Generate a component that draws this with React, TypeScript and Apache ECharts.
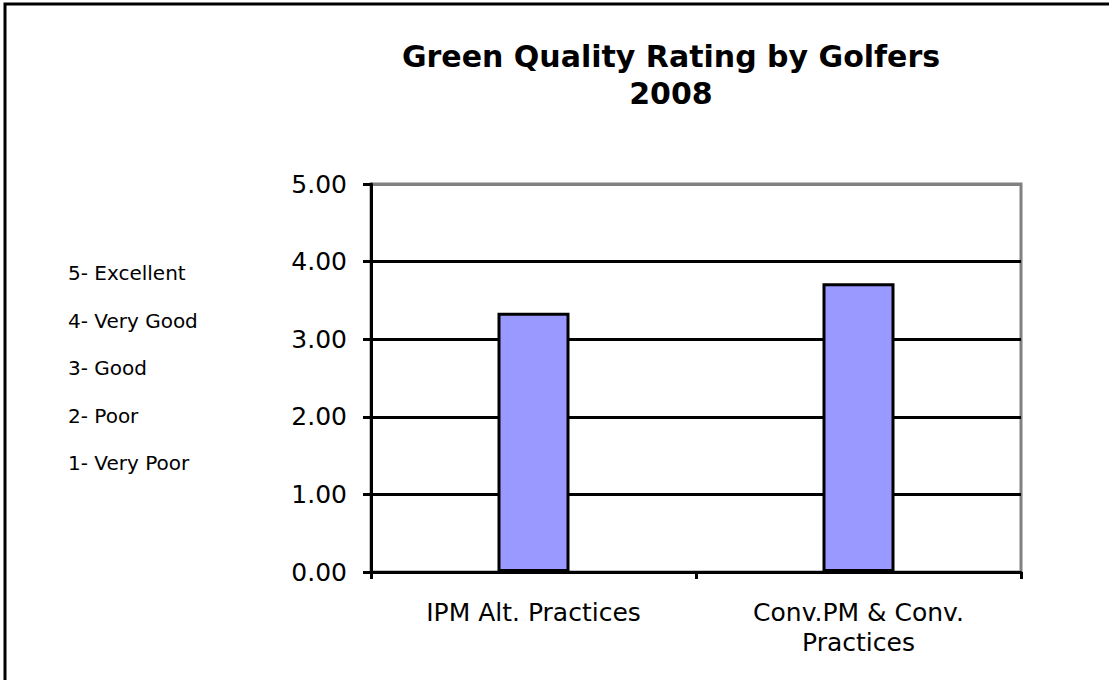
import React, { useEffect, useRef } from "react";
import * as echarts from "echarts";

const categories = ["IPM Alt. Practices", "Conv.PM & Conv.\nPractices"];
const ratings = [3.34, 3.72];
const yTicks = { min: 0, max: 5, interval: 1 };
const titleLines = ["Green Quality Rating by Golfers", "2008"];
const scaleNotes = ["5- Excellent", "4- Very Good", "3- Good", "2- Poor", "1- Very Poor"];

const FONT = "'DejaVu Sans', Verdana, sans-serif";

export default function App() {
  const ref = useRef<HTMLDivElement>(null);
  useEffect(() => {
    if (!ref.current) return;
    const chart = echarts.init(ref.current, null, { renderer: "svg" });
    const noteElems = scaleNotes.map((t, i) => ({
      type: "text",
      x: 68,
      y: 273 + i * 47.6,
      style: {
        text: t,
        fill: "#000",
        font: `20px ${FONT}`,
        textAlign: "left",
        textVerticalAlign: "middle",
      },
    }));
    chart.setOption({
      animation: false,
      backgroundColor: "#fff",
      grid: {
        left: 371,
        right: 88,
        top: 184,
        bottom: 108,
        show: true,
        borderColor: "#808080",
        borderWidth: 3,
        backgroundColor: "transparent",
      },
      graphic: [
        {
          type: "rect",
          shape: { x: 5, y: 4, width: 1200, height: 800 },
          style: { fill: "none", stroke: "#000", lineWidth: 3 },
          silent: true,
        },
        {
          type: "text",
          x: 671,
          y: 75,
          style: {
            text: titleLines.join("\n"),
            fill: "#000",
            font: `bold 30px ${FONT}`,
            lineHeight: 37,
            textAlign: "center",
            textVerticalAlign: "middle",
          },
        },
        ...noteElems,
      ],
      xAxis: {
        type: "category",
        data: categories,
        boundaryGap: true,
        axisLine: { show: true, lineStyle: { color: "#000", width: 3 } },
        axisTick: { show: true, length: 7, lineStyle: { color: "#000", width: 3 } },
        axisLabel: {
          color: "#000",
          fontFamily: FONT,
          fontSize: 25,
          lineHeight: 30,
          margin: 25,
          interval: 0,
        },
        splitLine: { show: false },
      },
      yAxis: {
        type: "value",
        min: yTicks.min,
        max: yTicks.max,
        interval: yTicks.interval,
        axisLine: { show: true, lineStyle: { color: "#000", width: 3 } },
        axisTick: { show: true, length: 8, lineStyle: { color: "#000", width: 3 } },
        axisLabel: {
          color: "#000",
          fontFamily: FONT,
          fontSize: 25,
          margin: 24,
          formatter: (v: number) => v.toFixed(2),
        },
        splitLine: {
          show: true,
          lineStyle: {
            color: ["#000", "#000", "#000", "#000", "#000", "#808080"],
            width: 3,
          },
        },
      },
      series: [
        {
          type: "bar",
          data: ratings,
          barWidth: 72,
          itemStyle: { color: "#9999FF", borderColor: "#000", borderWidth: 3 },
        },
      ],
    });
    return () => chart.dispose();
  }, []);
  return (
    <div
      ref={ref}
      style={{ position: "absolute", left: 0, top: 0, width: 1109, height: 680 }}
    />
  );
}
